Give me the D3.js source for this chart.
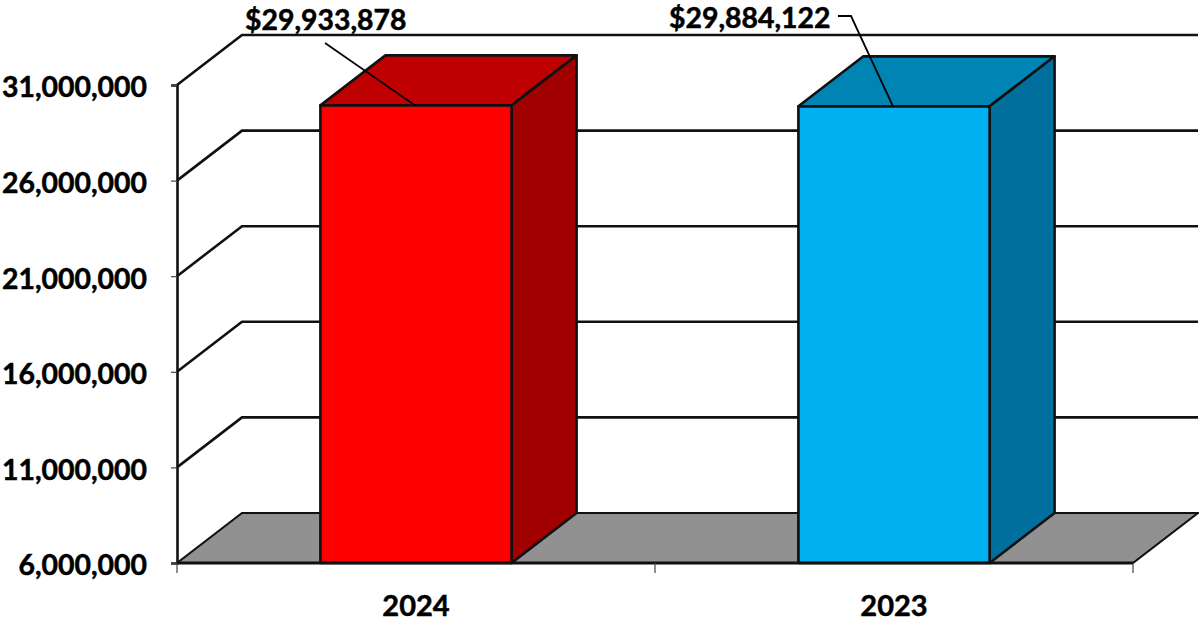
<!DOCTYPE html>
<html>
<head>
<meta charset="utf-8">
<script src="https://cdn.jsdelivr.net/npm/d3@7"></script>
<style>
  html, body { margin: 0; padding: 0; background: #fff; }
  svg { display: block; }
  text { font-family: Lato, "Open Sans", sans-serif; font-weight: 700; fill: #000; stroke: #000; stroke-width: 0.5px; }
</style>
</head>
<body>
<svg id="chart" width="1199" height="621"></svg>
<script>
const categories = ["2024", "2023"];
const values = [29933878, 29884122];
const valueLabels = ["$29,933,878", "$29,884,122"];
const frontColors = ["#ff0000", "#00b0f0"];
const topColors = ["#bf0000", "#0084b4"];
const sideColors = ["#a00000", "#006f9e"];
const tickValues = [6000000, 11000000, 16000000, 21000000, 26000000, 31000000];

const svg = d3.select("#chart");
const plotLeft = 177, plotRight = 1133, plotTop = 85, plotBottom = 563;
const depthX = 65, depthY = -50;
const ink = "#111";

const y = d3.scaleLinear().domain([6000000, 31000000]).range([plotBottom, plotTop]);
const x = d3.scaleBand().domain(categories).range([plotLeft, plotRight]).paddingInner(0.6).paddingOuter(0.3);
const xTicks = d3.scaleBand().domain(categories).range([plotLeft, plotRight]);
const line = d3.line();

// Back wall gridlines, each running up the side wall first
svg.append("g").selectAll("path").data(tickValues.slice(1)).join("path")
  .attr("fill", "none").attr("stroke", ink).attr("stroke-width", 2.6)
  .attr("d", d => line([[plotLeft, y(d)], [plotLeft + depthX, y(d) + depthY], [plotRight + depthX, y(d) + depthY]]));

// Floor
svg.append("path")
  .attr("fill", "#919191").attr("stroke", ink).attr("stroke-width", 2.2)
  .attr("d", line([[plotLeft, plotBottom], [plotLeft + depthX, plotBottom + depthY], [plotRight + depthX, plotBottom + depthY], [plotRight, plotBottom]]) + "Z");

// Extruded bars
const bars = svg.append("g").selectAll("g").data(categories).join("g")
  .attr("stroke", ink).attr("stroke-width", 2.6).attr("stroke-linejoin", "round");
bars.each(function (c, i) {
  const g = d3.select(this);
  const x0 = x(c), x1 = x0 + x.bandwidth(), yTop = y(values[i]);
  g.append("path").attr("fill", topColors[i])
    .attr("d", line([[x0, yTop], [x0 + depthX, yTop + depthY], [x1 + depthX, yTop + depthY], [x1, yTop]]) + "Z");
  g.append("path").attr("fill", sideColors[i])
    .attr("d", line([[x1, yTop], [x1 + depthX, yTop + depthY], [x1 + depthX, plotBottom + depthY], [x1, plotBottom]]) + "Z");
  g.append("rect").attr("fill", frontColors[i])
    .attr("x", x0).attr("y", yTop).attr("width", x1 - x0).attr("height", plotBottom - yTop);
});

// Value axis
const yAxis = svg.append("g").attr("transform", `translate(${plotLeft},0)`)
  .call(d3.axisLeft(y).tickValues(tickValues).tickFormat(d3.format(",")).tickSize(6).tickPadding(24));
yAxis.select(".domain").attr("stroke", ink).attr("stroke-width", 2.6);
yAxis.selectAll(".tick line").attr("stroke", "#444").attr("stroke-width", 1.2);
yAxis.selectAll("text").attr("font-size", 28.4).attr("dy", "0.42em")
  .style("font-family", "Lato").style("font-weight", 700).attr("fill", "#000");

// Category axis baseline, separators and labels
svg.append("line").attr("x1", plotLeft).attr("x2", plotRight).attr("y1", plotBottom).attr("y2", plotBottom)
  .attr("stroke", ink).attr("stroke-width", 3);
const separators = categories.map(c => xTicks(c)).concat([plotRight]);
svg.append("g").selectAll("line").data(separators).join("line")
  .attr("x1", d => d).attr("x2", d => d).attr("y1", plotBottom).attr("y2", plotBottom + 10)
  .attr("stroke", "#444").attr("stroke-width", 1.2);
svg.append("g").selectAll("text").data(categories).join("text")
  .attr("x", c => x(c) + x.bandwidth() / 2).attr("y", 616)
  .attr("text-anchor", "middle").attr("font-size", 29).text(c => c);

// Value labels with leader lines to the bar tops
const leaderStart = [[325, 43], [838, 16]];
const leaderBend = [null, [851, 16]];
categories.forEach((c, i) => {
  const end = [x(c) + x.bandwidth() / 2 - 1, y(values[i])];
  const pts = [leaderStart[i], leaderBend[i], end].filter(Boolean);
  svg.append("path").attr("fill", "none").attr("stroke", "#000").attr("stroke-width", 1.8).attr("d", line(pts));
});
svg.append("text").attr("x", 245).attr("y", 30).attr("font-size", 28.4).text(valueLabels[0]);
svg.append("text").attr("x", 669).attr("y", 28).attr("font-size", 28.4).text(valueLabels[1]);
</script>
</body>
</html>
